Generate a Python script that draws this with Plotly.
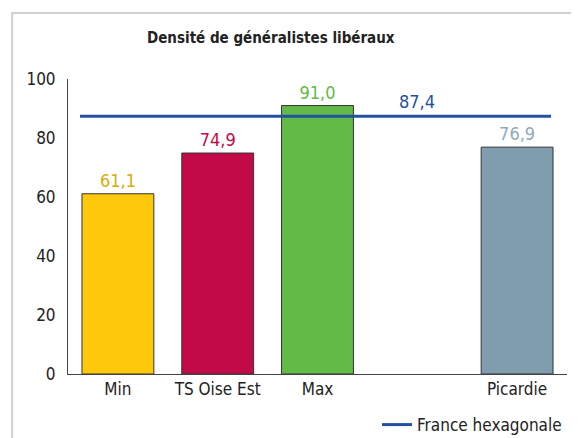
import plotly.graph_objects as go

categories = ["Min", "TS Oise Est", "Max", "", "Picardie"]
values = [61.1, 74.9, 91.0, None, 76.9]
labels = ["61,1", "74,9", "91,0", "", "76,9"]
bar_colors = ["#FFC90B", "#C30A48", "#62BB46", "#FFFFFF", "#7F9DAE"]
label_colors = ["#D9AA0C", "#C30A48", "#62BB46", "#FFFFFF", "#8FA9B8"]
france_value = 87.4
france_label = "87,4"
france_name = "France hexagonale"
y_ticks = [0, 20, 40, 60, 80, 100]

FONT = "DejaVu Sans Condensed, Liberation Sans Narrow, sans-serif"
xs = list(range(len(categories)))

fig = go.Figure()
fig.add_trace(go.Bar(
    x=xs, y=values, width=0.72,
    marker=dict(color=bar_colors, line=dict(color="#333333", width=1)),
    text=labels, textposition="outside", cliponaxis=False,
    textfont=dict(family=FONT, size=18, color=label_colors),
    showlegend=False, hoverinfo="skip",
))
fig.add_trace(go.Scatter(
    x=[-0.38, 4.34], y=[france_value, france_value], mode="lines",
    line=dict(color="#2350A0", width=3), name=france_name,
))
fig.add_annotation(x=3, y=france_value, text=france_label, showarrow=False,
                   yanchor="bottom", yshift=2,
                   font=dict(family=FONT, size=18, color="#2350A0"))

fig.add_shape(type="rect", xref="paper", yref="paper",
              x0=-0.112, y0=-0.4, x1=1.2, y1=1.224,
              line=dict(color="#CFCFCF", width=2), layer="below")

fig.add_annotation(xref="paper", yref="paper", x=0.407, y=1.139,
                   xanchor="center", yanchor="middle", showarrow=False,
                   text="<b>Densité de généralistes libéraux</b>",
                   font=dict(family=FONT, size=15, color="#222222"))

fig.update_layout(
    width=571, height=430,
    margin=dict(l=60, r=12, t=71, b=64, autoexpand=False),
    paper_bgcolor="white", plot_bgcolor="white",
    font=dict(family=FONT, size=17, color="#222222"),
    xaxis=dict(range=[-0.5, 4.5], tickvals=xs, ticktext=categories, showgrid=False,
               zeroline=False, showline=True, linecolor="#444444", linewidth=1,
               ticks="", automargin=False, tickfont=dict(size=17, color="#222222")),
    yaxis=dict(range=[0, 100], tickvals=y_ticks, showgrid=False, zeroline=False,
               showline=True, linecolor="#444444", linewidth=1, ticks="",
               automargin=False, ticklabelstandoff=8,
               tickfont=dict(size=17, color="#222222")),
    legend=dict(x=1.0, xanchor="right", y=-0.173, yanchor="middle",
                font=dict(size=17, color="#222222"), bgcolor="rgba(0,0,0,0)"),
    showlegend=True,
)
fig.write_html("out.html")
